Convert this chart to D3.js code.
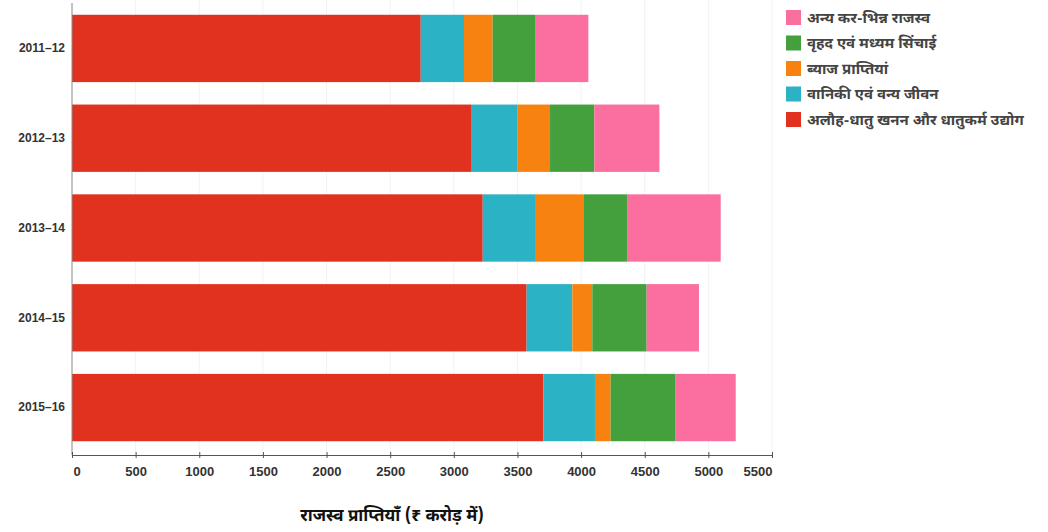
<!DOCTYPE html>
<html>
<head>
<meta charset="utf-8">
<script src="https://cdn.jsdelivr.net/npm/d3@7"></script>
<style>
  html, body { margin: 0; padding: 0; background: #fff; }
  svg { display: block; }
  .tick text { font-family: "Liberation Sans", Arial, sans-serif; }
</style>
</head>
<body>
<svg id="chart" width="1048" height="532"></svg>
<script>
// Financial years (y categories)
const years = ["2011–12", "2012–13", "2013–14", "2014–15", "2015–16"];

// Revenue receipts by head, ₹ crore, stacked left to right
const metalMining = [2740, 3135, 3227, 3572, 3703];   // अलौह-धातु खनन और धातुकर्म उद्योग
const forestry    = [340, 367, 411, 359, 406];        // वानिकी एवं वन्य जीवन
const interest    = [225, 254, 385, 157, 123];        // ब्याज प्राप्तियां
const irrigation  = [333, 348, 343, 427, 511];        // वृहद एवं मध्यम सिंचाई
const otherNonTax = [419, 511, 731, 411, 472];        // अन्य कर-भिन्न राजस्व

const seriesKeys   = ["metal", "forestry", "interest", "irrigation", "other"];
const seriesNames  = [
  "अलौह-धातु खनन और धातुकर्म उद्योग",
  "वानिकी एवं वन्य जीवन",
  "ब्याज प्राप्तियां",
  "वृहद एवं मध्यम सिंचाई",
  "अन्य कर-भिन्न राजस्व"
];
const seriesColors = ["#e0321f", "#2cb2c5", "#f8820f", "#43a03c", "#fa6ea0"];

const xTicks = [0, 500, 1000, 1500, 2000, 2500, 3000, 3500, 4000, 4500, 5000, 5500];
const xTitle = "राजस्व प्राप्तियाँ (₹ करोड़ में)";

const table = years.map((y, i) => ({
  year: y,
  metal: metalMining[i],
  forestry: forestry[i],
  interest: interest[i],
  irrigation: irrigation[i],
  other: otherNonTax[i]
}));

const svg = d3.select("#chart");
const devFont = '"Noto Sans Devanagari", "Lohit Devanagari", "Noto Sans", "DejaVu Sans", sans-serif';

const x = d3.scaleLinear().domain([0, 5500]).range([72, 772]);
const y = d3.scaleBand().domain(years).range([4, 452]).paddingInner(0.25).paddingOuter(0.12);
const color = d3.scaleOrdinal().domain(seriesKeys).range(seriesColors);

// faint vertical grid
svg.append("g")
  .selectAll("line")
  .data(xTicks.slice(1))
  .join("line")
  .attr("x1", d => x(d)).attr("x2", d => x(d))
  .attr("y1", 0).attr("y2", 455)
  .attr("stroke", "#f2f2f2")
  .attr("stroke-width", 1);

// stacked bars
const stacked = d3.stack().keys(seriesKeys)(table);
svg.append("g")
  .selectAll("g")
  .data(stacked)
  .join("g")
  .attr("fill", d => color(d.key))
  .selectAll("rect")
  .data(d => d)
  .join("rect")
  .attr("x", d => x(d[0]))
  .attr("width", d => x(d[1]) - x(d[0]))
  .attr("y", d => y(d.data.year))
  .attr("height", y.bandwidth());

// y axis
const yAxis = svg.append("g")
  .attr("transform", "translate(72,0)")
  .call(d3.axisLeft(y).tickSize(0).tickPadding(7));
yAxis.select(".domain").attr("stroke", "#888").attr("d", "M0,3V455");
yAxis.selectAll("text")
  .attr("font-size", "12px")
  .attr("font-weight", "bold")
  .attr("fill", "#333");

// x axis
const xAxis = svg.append("g")
  .attr("transform", "translate(0,455)")
  .call(d3.axisBottom(x).tickValues(xTicks).tickFormat(d3.format("d"))
    .tickSize(3).tickSizeOuter(0).tickPadding(9));
xAxis.select(".domain").attr("stroke", "#555");
xAxis.selectAll(".tick line").attr("stroke", "#555").attr("y1", -3);
xAxis.selectAll("text")
  .attr("font-size", "13px")
  .attr("font-weight", "bold")
  .attr("fill", "#333")
  .attr("text-anchor", (d, i) => i === 0 ? "start" : (i === xTicks.length - 1 ? "end" : "middle"))
  .attr("dx", (d, i) => i === 0 ? "1" : "0");

// axis title
svg.append("text")
  .attr("x", 392)
  .attr("y", 521)
  .attr("text-anchor", "middle")
  .attr("font-family", devFont)
  .attr("font-size", "17px")
  .attr("font-weight", "bold")
  .attr("fill", "#111")
  .text(xTitle);

// legend (top item is the last stacked series)
const legendOrder = d3.range(seriesKeys.length).reverse();
const legend = svg.append("g")
  .selectAll("g")
  .data(legendOrder)
  .join("g")
  .attr("transform", (d, i) => `translate(786,${10 + i * 25.5})`);
legend.append("rect")
  .attr("width", 15).attr("height", 15)
  .attr("fill", d => seriesColors[d]);
legend.append("text")
  .attr("x", 21).attr("y", 7.5)
  .attr("dy", "0.35em")
  .attr("font-family", devFont)
  .attr("font-size", "15px")
  .attr("font-weight", "bold")
  .attr("fill", "#444")
  .text(d => seriesNames[d]);
</script>
</body>
</html>
